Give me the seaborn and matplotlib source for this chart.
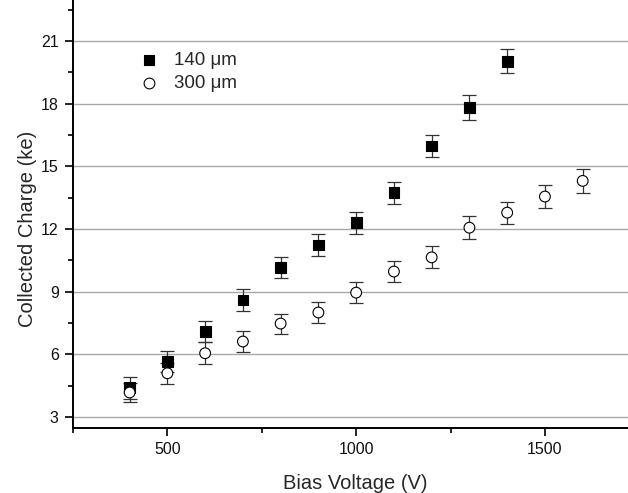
import numpy as np
import pandas as pd
import matplotlib
matplotlib.use("Agg")
import matplotlib.pyplot as plt
import seaborn as sns
from matplotlib.ticker import MultipleLocator

# Data
v_140 = [400, 500, 600, 700, 800, 900, 1000, 1100, 1200, 1300, 1400]
q_140 = [4.40, 5.65, 7.09, 8.60, 10.17, 11.23, 12.30, 13.74, 15.97, 17.82, 20.03]
e_140 = [0.52, 0.50, 0.50, 0.52, 0.50, 0.54, 0.53, 0.53, 0.55, 0.60, 0.58]

v_300 = [400, 500, 600, 700, 800, 900, 1000, 1100, 1200, 1300, 1400, 1500, 1600]
q_300 = [4.17, 5.09, 6.05, 6.61, 7.47, 8.00, 8.95, 9.96, 10.64, 12.06, 12.78, 13.55, 14.30]
e_300 = [0.46, 0.50, 0.52, 0.50, 0.48, 0.50, 0.50, 0.50, 0.52, 0.54, 0.53, 0.54, 0.56]

labels = ["140 \u03bcm", "300 \u03bcm"]
x_ticks = [500, 1000, 1500]
y_ticks = [3, 6, 9, 12, 15, 18, 21]

df = pd.concat([
    pd.DataFrame({"V": v_140, "Q": q_140, "err": e_140, "thick": labels[0]}),
    pd.DataFrame({"V": v_300, "Q": q_300, "err": e_300, "thick": labels[1]}),
], ignore_index=True)

sns.set_style("ticks")
plt.rcParams['font.family'] = ['Liberation Sans', 'DejaVu Sans']

fig = plt.figure(figsize=(6.28, 4.93), dpi=100)
ax = fig.add_axes([73/628, 1 - 428/493, 1 - 73/628, 428/493])

# error bars
for lab in labels:
    sub = df[df["thick"] == lab]
    ax.errorbar(sub["V"], sub["Q"], yerr=sub["err"], fmt="none",
                ecolor="#333333", elinewidth=0.9, capsize=4.8, capthick=0.9, zorder=2)

sns.scatterplot(data=df, x="V", y="Q", style="thick", hue="thick",
                markers={labels[0]: "s", labels[1]: "o"},
                palette={labels[0]: "black", labels[1]: "white"},
                edgecolor="black", linewidth=0.8, s=60, ax=ax, zorder=3, legend=False)

# legend
h1 = ax.scatter([], [], marker="s", s=60, c="black", edgecolors="black", linewidths=0.8)
h2 = ax.scatter([], [], marker="o", s=60, c="white", edgecolors="black", linewidths=0.8)
leg = ax.legend([h1, h2], labels, loc="upper left", bbox_to_anchor=(0.09, 0.896),
                frameon=False, fontsize=13.5, handletextpad=0.3, labelspacing=0.3,
                borderaxespad=0)

ax.set_xlim(250, 1720)
ax.set_ylim(2.47, 22.96)
ax.set_xticks(x_ticks)
ax.set_yticks(y_ticks)
ax.xaxis.set_minor_locator(MultipleLocator(250))
ax.yaxis.set_minor_locator(MultipleLocator(1.5))
ax.yaxis.grid(True, which="major", color="#a8a8a8", linewidth=1.0, zorder=0)
ax.set_axisbelow(True)

for s in ["top", "right"]:
    ax.spines[s].set_visible(False)
for s in ["left", "bottom"]:
    ax.spines[s].set_linewidth(1.4)
    ax.spines[s].set_color("black")

ax.tick_params(axis="both", which="major", direction="out", length=5.8, width=1.2,
               labelsize=11.5, color="black", labelcolor="#111111", pad=4.5)
ax.tick_params(axis="both", which="minor", direction="out", length=3.5, width=1.2, color="black")

ax.set_xlabel("Bias Voltage (V)", fontsize=14.5, labelpad=12)
ax.set_ylabel("Collected Charge (ke)", fontsize=14.5, labelpad=3)
ax.xaxis.label.set_x(0.508)
ax.yaxis.label.set_y(0.465)

fig.savefig("out.png", dpi=100)
